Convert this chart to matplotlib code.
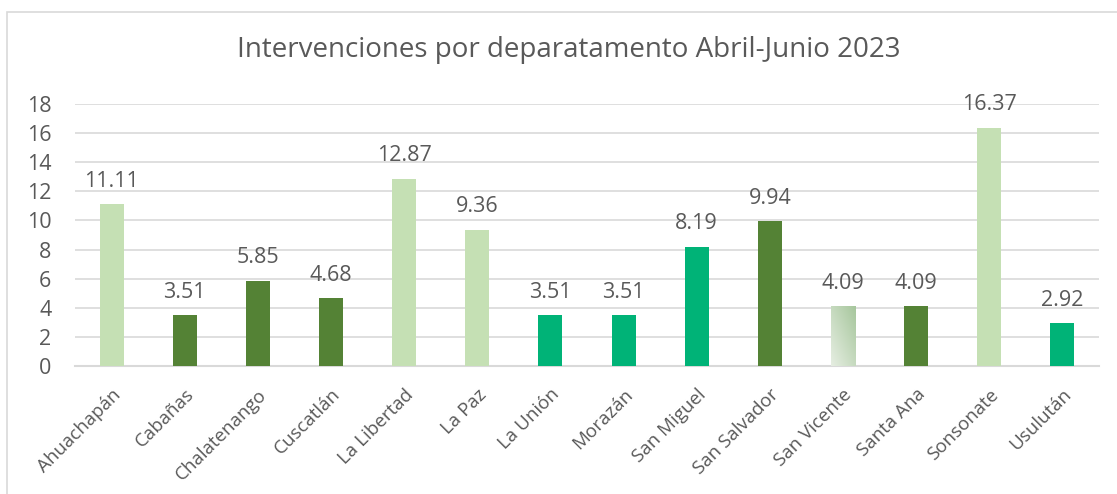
import matplotlib
matplotlib.use("Agg")
import matplotlib.pyplot as plt
import numpy as np
from matplotlib.patches import Rectangle

departamentos = ["Ahuachapán", "Cabañas", "Chalatenango", "Cuscatlán", "La Libertad",
                 "La Paz", "La Unión", "Morazán", "San Miguel", "San Salvador",
                 "San Vicente", "Santa Ana", "Sonsonate", "Usulután"]
valores = [11.11, 3.51, 5.85, 4.68, 12.87, 9.36, 3.51, 3.51, 8.19, 9.94,
           4.09, 4.09, 16.37, 2.92]
colores = ["#C5E0B4", "#548235", "#548235", "#548235", "#C5E0B4", "#C5E0B4",
           "#00B377", "#00B377", "#00B377", "#548235", "grad", "#548235",
           "#C5E0B4", "#00B377"]

plt.rcParams['font.family'] = ['Open Sans', 'DejaVu Sans']
gris = "#595959"

fig = plt.figure(figsize=(11.17, 4.94), dpi=100)
ax = fig.add_axes([75 / 1117, 1 - 366 / 494, 1024 / 1117, (366 - 104) / 494])

x = np.arange(len(departamentos))
ancho = 0.33
barras = ax.bar(x, valores, ancho, color=[c if c != "grad" else "none" for c in colores], zorder=3)

# San Vicente con degradado
for rect, c in zip(barras, colores):
    if c == "grad":
        x0, w, h = rect.get_x(), rect.get_width(), rect.get_height()
        gx, gy = np.meshgrid(np.linspace(0, 1, 50), np.linspace(0, 1, 50))
        t = (gx + gy) / 2
        c0 = np.array([0xE6, 0xEE, 0xE2]) / 255
        c1 = np.array([0xA6, 0xC6, 0x9C]) / 255
        img = c0 + (c1 - c0) * t[..., None]
        im = ax.imshow(img, extent=(x0, x0 + w, 0, h), origin="lower",
                       aspect="auto", zorder=3)
        im.set_clip_path(rect)

for xi, v in zip(x, valores):
    ax.annotate(f"{v:.2f}", (xi, v), xytext=(0, 12.5), textcoords="offset points",
                ha="center", va="baseline", fontsize=15.5, color=gris)

ax.set_xlim(-0.5, len(departamentos) - 0.5)
ax.set_ylim(0, 18)
ax.set_yticks(range(0, 19, 2))
ax.tick_params(axis="y", length=0, labelsize=15.5, labelcolor=gris, pad=17)
ax.tick_params(axis="x", length=0, labelsize=13.5, labelcolor=gris, pad=14)
ax.set_xticks(x)
ax.set_xticklabels(departamentos, rotation=45, ha="right", rotation_mode="anchor")
ax.grid(axis="y", color="#D9D9D9", linewidth=1.2, zorder=0)
for s in ["top", "right", "left"]:
    ax.spines[s].set_visible(False)
ax.spines["bottom"].set_color("#D9D9D9")
ax.spines["bottom"].set_linewidth(1.5)

fig.text(569 / 1117, 1 - 50 / 494, "Intervenciones por deparatamento Abril-Junio 2023",
         ha="center", va="center", fontsize=20, color=gris)

fig.patches.append(Rectangle((7 / 1117, -0.1), 1.2, 1 - 12 / 494 + 0.1,
                             transform=fig.transFigure, fill=False,
                             edgecolor="#D9D9D9", linewidth=1.2))

fig.savefig("out.png", dpi=100)
